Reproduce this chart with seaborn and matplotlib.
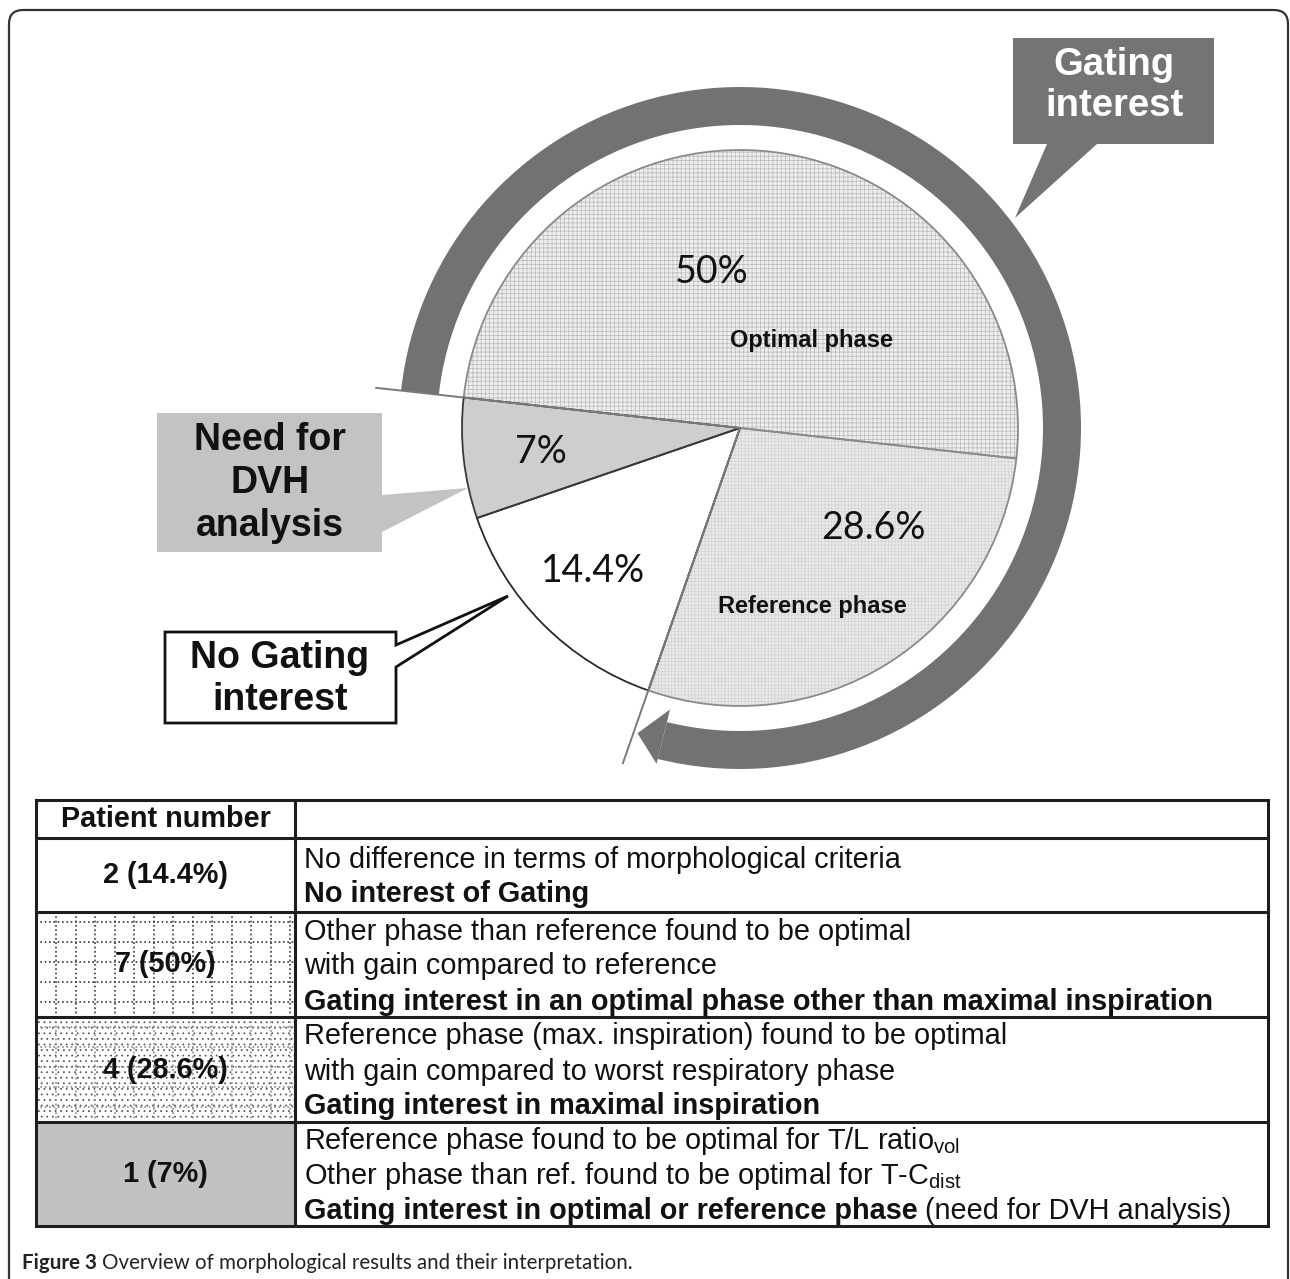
import numpy as np
import matplotlib
matplotlib.use("Agg")
import matplotlib.pyplot as plt
import seaborn as sns
from matplotlib.patches import Polygon, Rectangle, FancyBboxPatch, Wedge

# ---------------- data ----------------
slice_values = [50.0, 28.6, 14.4, 7.0]
slice_pct_labels = ["50%", "28.6%", "14.4%", "7%"]
slice_phase_labels = ["Optimal phase", "Reference phase", "", ""]
gating_flags = [True, True, False, False]

callout_gating = ["Gating", "interest"]
callout_dvh = ["Need for", "DVH", "analysis"]
callout_nogating = ["No Gating", "interest"]

table_header = ["Patient number", ""]
patient_labels = ["2 (14.4%)", "7 (50%)", "4 (28.6%)", "1 (7%)"]
row_descriptions = [
    [[("No difference in terms of morphological criteria", "normal")],
     [("No interest of Gating", "bold")]],
    [[("Other phase than reference found to be optimal", "normal")],
     [("with gain compared to reference", "normal")],
     [("Gating interest in an optimal phase other than maximal inspiration", "bold")]],
    [[("Reference phase (max. inspiration) found to be optimal", "normal")],
     [("with gain compared to worst respiratory phase", "normal")],
     [("Gating interest in maximal inspiration", "bold")]],
    [[("Reference phase found to be optimal for T/L ratio$_\\mathregular{vol}$", "normal")],
     [("Other phase than ref. found to be optimal for T-C$_\\mathregular{dist}$", "normal")],
     [("Gating interest in optimal or reference phase", "bold"),
      ("(need for DVH analysis)", "normal")]],
]
caption_bold = "Figure 3"
caption_text = "Overview of morphological results and their interpretation."

# ---------------- style ----------------
sns.set_theme(style="white")
plt.rcParams['font.family'] = ['Liberation Sans', 'DejaVu Sans']
plt.rcParams['mathtext.fontset'] = 'custom'
plt.rcParams['mathtext.rm'] = 'Liberation Sans'
plt.rcParams['hatch.linewidth'] = 0.55

W, H = 1290, 1279
fig = plt.figure(figsize=(W / 100, H / 100), dpi=100)
ax = fig.add_axes([0, 0, 1, 1])
Y = lambda y: H - y  # pixel-from-top -> data y

slice_faces = ['#eeeeee', '#eaeaea', '#ffffff', '#cecece']
slice_hatch_colors = ['#bcbcbc', '#d4d4d4', '#ffffff', '#cecece']
slice_hatches = ['++++', '+++++', None, None]
slice_edges = ['#8a8a8a', '#8a8a8a', '#2a2a2a', '#3a3a3a']

center = (740, Y(428))
radius = 278
start_angle = 173.7

# pass 1: faces + hatches
wedges, _ = ax.pie(slice_values, center=center, radius=radius, startangle=start_angle,
                   counterclock=False, colors=slice_faces, frame=True,
                   wedgeprops=dict(linewidth=0.0))
for w, hc, h in zip(wedges, slice_hatch_colors, slice_hatches):
    w.set_edgecolor(hc)
    w.set_linewidth(0)
    if h:
        w.set_hatch(h)
# pass 2: outlines
wedges2, _ = ax.pie(slice_values, center=center, radius=radius, startangle=start_angle,
                    counterclock=False, colors=['none'] * 4, frame=True,
                    wedgeprops=dict(linewidth=1.3))
for w, ec in zip(wedges2, slice_edges):
    w.set_edgecolor(ec)
    w.set_facecolor('none')

# slice labels
pct_pos = [(712, 272), (873, 528), (593, 571), (541, 452)]
phase_pos = [(811, 340), (812, 606)]
for lab, (x, y) in zip(slice_pct_labels, pct_pos):
    ax.text(x, Y(y), lab, fontsize=27, family=['Lato', 'DejaVu Sans'], ha='center', va='center',
            color='#111111')
for lab, (x, y) in zip([l for l in slice_phase_labels if l], phase_pos):
    ax.text(x, Y(y), lab, fontsize=17, fontweight='bold', ha='center', va='center',
            color='#111111')

# ---------------- gating arrow ring ----------------
gating_total = sum(v for v, g in zip(slice_values, gating_flags) if g)
end_angle = start_angle - gating_total / sum(slice_values) * 360.0
ring_col = '#707273'
head_len = 5.3
ring = Wedge(center, 341, end_angle + head_len, start_angle, width=38,
             facecolor=ring_col, edgecolor='none')
ax.add_patch(ring)
ab = np.deg2rad(end_angle + head_len)
at = np.deg2rad(end_angle + 0.7)
head = Polygon([(center[0] + 290 * np.cos(ab), center[1] + 290 * np.sin(ab)),
                (center[0] + 346 * np.cos(ab), center[1] + 346 * np.sin(ab)),
                (center[0] + 322 * np.cos(at), center[1] + 322 * np.sin(at))],
               closed=True, facecolor=ring_col, edgecolor='none')
ax.add_patch(head)

# boundary lines extended beyond the pie
for ang, rr in [(start_angle, 367), (end_angle, 356)]:
    a = np.deg2rad(ang)
    ax.plot([center[0], center[0] + rr * np.cos(a)], [center[1], center[1] + rr * np.sin(a)],
            color='#7a7a7a', lw=1.4, solid_capstyle='butt', zorder=3)

# ---------------- callouts ----------------
gpoly = [(1013, 38), (1214, 38), (1214, 144), (1097, 144), (1015, 218), (1047, 144), (1013, 144)]
ax.add_patch(Polygon([(x, Y(y)) for x, y in gpoly], closed=True, facecolor='#727475',
                     edgecolor='none', zorder=4))
for lab, y in zip(callout_gating, [65, 106]):
    ax.text(1114, Y(y), lab, fontsize=27.5, fontweight='bold', color='white',
            ha='center', va='center', zorder=5)

dpoly = [(157, 413), (382, 413), (382, 495), (468, 488), (382, 532), (382, 552), (157, 552)]
ax.add_patch(Polygon([(x, Y(y)) for x, y in dpoly], closed=True, facecolor='#c3c3c3',
                     edgecolor='none', zorder=4))
for lab, y in zip(callout_dvh, [440, 483, 526]):
    ax.text(270, Y(y), lab, fontsize=27, fontweight='bold', color='#111111',
            ha='center', va='center', zorder=5)

npoly = [(165, 632), (396, 632), (396, 645), (508, 596), (396, 667), (396, 723), (165, 723)]
ax.add_patch(Polygon([(x, Y(y)) for x, y in npoly], closed=True, facecolor='white',
                     edgecolor='#111111', lw=2, zorder=4))
for lab, y in zip(callout_nogating, [658, 700]):
    ax.text(280, Y(y), lab, fontsize=27, fontweight='bold', color='#111111',
            ha='center', va='center', zorder=5)

# ---------------- table ----------------
row_y = [800, 838, 912, 1017, 1122, 1226]
col_x = [36, 295, 1268]
left_faces = ['white', 'white', 'white', 'white', '#c2c2c2']
for i in range(5):
    ax.add_patch(Rectangle((col_x[0], Y(row_y[i + 1])), col_x[1] - col_x[0],
                           row_y[i + 1] - row_y[i], facecolor=left_faces[i],
                           edgecolor='none', zorder=1))
# row 3 dotted texture
r3 = Rectangle((col_x[0], Y(row_y[4])), col_x[1] - col_x[0], row_y[4] - row_y[3],
               facecolor='white', edgecolor='#555555', lw=0, hatch='...', zorder=1.2)
ax.add_patch(r3)
# dotted grids in rows 2 and 3
for (ya, yb), gc in [((row_y[2], row_y[3]), '#3a3a3a'), ((row_y[3], row_y[4]), '#8a8a8a')]:
    for xv in np.arange(col_x[0] + 20, col_x[1], 19.5):
        ax.plot([xv, xv], [Y(ya), Y(yb)], color=gc, lw=1.2, ls=(0, (1, 1.6)), zorder=1.5)
    for yv in np.arange(ya + 10, yb, 20):
        ax.plot([col_x[0], col_x[1]], [Y(yv), Y(yv)], color=gc, lw=1.2, ls=(0, (1, 1.6)),
                zorder=1.5)

# grid lines
for y in row_y:
    ax.plot([col_x[0], col_x[-1]], [Y(y), Y(y)], color='#1e1e1e', lw=2.2, zorder=6,
            solid_capstyle='projecting')
for x in col_x:
    ax.plot([x, x], [Y(row_y[0]), Y(row_y[-1])], color='#1e1e1e', lw=2.2, zorder=6,
            solid_capstyle='projecting')

tfs = 20.8
ax.text((col_x[0] + col_x[1]) / 2, Y((row_y[0] + row_y[1]) / 2), table_header[0],
        fontsize=tfs, fontweight='bold', ha='center', va='center', color='#111111', zorder=7)

fig.canvas.draw()
renderer = fig.canvas.get_renderer()
line_gap = 35
for i, (plab, lines) in enumerate(zip(patient_labels, row_descriptions)):
    ytop, ybot = row_y[i + 1], row_y[i + 2]
    ymid = (ytop + ybot) / 2
    ax.text((col_x[0] + col_x[1]) / 2, Y(ymid), plab, fontsize=tfs, fontweight='bold',
            ha='center', va='center', color='#111111', zorder=7)
    n = len(lines)
    for j, segs in enumerate(lines):
        yl = ymid + (j - (n - 1) / 2) * line_gap
        x = 304
        for txt, wt in segs:
            t = ax.text(x, Y(yl + 10), txt, fontsize=tfs, fontweight=wt, ha='left',
                        va='baseline', color='#111111', zorder=7)
            bb = t.get_window_extent(renderer)
            x = x + bb.width + 7

# ---------------- caption & frame ----------------
cap_fs = 14.8
cb = ax.text(22, Y(1269), caption_bold, fontsize=cap_fs, fontweight='bold',
             family=['Lato', 'DejaVu Sans'], ha='left', va='baseline', color='#222222')
bbw = cb.get_window_extent(renderer).width
ax.text(22 + bbw + 5, Y(1269), caption_text, fontsize=cap_fs, family=['Lato', 'DejaVu Sans'],
        ha='left', va='baseline', color='#222222')

frame = FancyBboxPatch((9, Y(1320)), 1279, 1310, boxstyle="round,pad=0,rounding_size=14",
                       facecolor='none', edgecolor='#333333', lw=1.6, zorder=8)
ax.add_patch(frame)

ax.set_xlim(0, W)
ax.set_ylim(0, H)
ax.set_aspect('auto')
ax.axis('off')
fig.savefig('out.png', dpi=100)
